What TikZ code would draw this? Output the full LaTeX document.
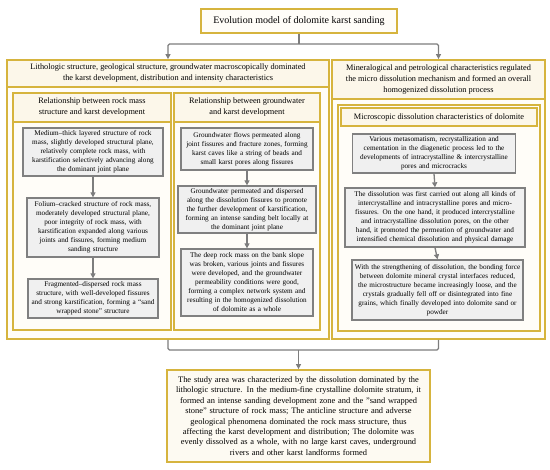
\documentclass[tikz,border=0pt]{standalone}
\usepackage{fontspec}
\setmainfont{Liberation Serif}
\usetikzlibrary{arrows.meta}
\definecolor{gold}{RGB}{214,180,62}
\definecolor{cream}{RGB}{252,247,234}
\definecolor{bodyc}{RGB}{255,253,248}
\definecolor{gfill}{RGB}{240,240,240}
\definecolor{gborder}{RGB}{128,128,128}
\definecolor{connc}{RGB}{125,125,125}
\tikzset{
  ybox/.style={draw=gold, line width=1.8pt, fill=bodyc, inner sep=0pt},
  hdr/.style={draw=gold, line width=1.8pt, fill=cream, inner sep=0pt, align=center, font=\fontsize{8.3}{11}\selectfont},
  gbox/.style={draw=gborder, line width=1.3pt, fill=gfill, inner xsep=2pt, inner ysep=0pt, align=center, font=\fontsize{7.2}{9}\selectfont},
  conn/.style={draw=connc, line width=1.3pt, rounded corners=1.5pt, -{Triangle[length=5pt,width=5pt]}},
  connline/.style={draw=connc, line width=1.3pt, rounded corners=1.5pt},
}
\begin{document}
\begin{tikzpicture}[x=1pt,y=-1pt]
\useasboundingbox (0,0) rectangle (550,470);
% title
\node[hdr, fill=bodyc, font=\fontsize{10}{12}\selectfont, minimum width=196pt, minimum height=24pt] (title) at (299,21) {Evolution model of dolomite karst sanding};
% outer boxes
\node[ybox, minimum width=322pt, minimum height=279pt] (lo) at (168,199.5) {};
\node[hdr, minimum width=322pt, minimum height=27pt] (loh) at (168,73.5) {Lithologic structure, geological structure, groundwater macroscopically dominated\\ the karst development, distribution and intensity characteristics};
\node[ybox, minimum width=213pt, minimum height=279pt] (ro) at (438.5,199.5) {};
\node[hdr, minimum width=213pt, minimum height=39pt] (roh) at (438.5,79.5) {Mineralogical and petrological characteristics regulated\\ the micro dissolution mechanism and formed an overall\\ homogenized dissolution process};
% sub boxes
\node[ybox, minimum width=158pt, minimum height=237pt] (ls) at (92,211.5) {};
\node[hdr, minimum width=158pt, minimum height=29pt] (lsh) at (92,107.5) {Relationship between rock mass\\ structure and karst development};
\node[ybox, minimum width=146pt, minimum height=237pt] (ms) at (247,211.5) {};
\node[hdr, minimum width=146pt, minimum height=29pt] (msh) at (247,107.5) {Relationship between groundwater\\ and karst development};
\node[ybox, minimum width=202pt, minimum height=226pt] (rs) at (439,218) {};
\node[hdr, minimum width=196pt, minimum height=18pt] (rsh) at (439,117) {Microscopic dissolution characteristics of dolomite};
% left column
\node[gbox, text width=136pt, minimum height=48pt] (l1) at (93,152) {Medium–thick layered structure of rock\\ mass, slightly developed structural plane,\\ relatively complete rock mass, with\\ karstification selectively advancing along\\ the dominant joint plane};
\node[gbox, text width=128pt, minimum height=59pt] (l2) at (93,227.5) {Folium–cracked structure of rock mass,\\ moderately developed structural plane,\\ poor integrity of rock mass, with\\ karstification expanded along various\\ joints and fissures, forming medium\\ sanding structure};
\node[gbox, text width=126pt, minimum height=39pt] (l3) at (93,298.5) {Fragmented–dispersed rock mass\\ structure, with well-developed fissures\\ and strong karstification, forming a ``sand\\ wrapped stone'' structure};
% middle column
\node[gbox, text width=128pt, minimum height=42pt] (m1) at (247,149) {Groundwater flows permeated along\\ joint fissures and fracture zones, forming\\ karst caves like a string of beads and\\ small karst pores along fissures};
\node[gbox, text width=134pt, minimum height=47pt] (m2) at (247,209.5) {Groundwater permeated and dispersed\\ along the dissolution fissures to promote\\ the further development of karstification,\\ forming an intense sanding belt locally at\\ the dominant joint plane};
\node[gbox, text width=128pt, minimum height=67pt] (m3) at (247,282.5) {The deep rock mass on the bank slope\\ was broken, various joints and fissures\\ were developed, and the groundwater\\ permeability conditions were good,\\ forming a complex network system and\\ resulting in the homogenized dissolution\\ of dolomite as a whole};
% right column
\node[gbox, text width=159pt, minimum height=39pt] (r1) at (434,153.5) {Various metasomatism, recrystallization and\\ cementation in the diagenetic process led to the\\ developments of intracrystalline \& intercrystalline\\ pores and microcracks};
\node[gbox, text width=176pt, minimum height=59pt] (r2) at (435,217.5) {The dissolution was first carried out along all kinds of\\ intercrystalline and intracrystalline pores and micro-\\ fissures. On the one hand, it produced intercrystalline\\ and intracrystalline dissolution pores, on the other\\ hand, it promoted the permeation of groundwater and\\ intensified chemical dissolution and physical damage};
\node[gbox, text width=167pt, minimum height=60pt] (r3) at (437.5,290) {With the strengthening of dissolution, the bonding force\\ between dolomite mineral crystal interfaces reduced,\\ the microstructure became increasingly loose, and the\\ crystals gradually fell off or disintegrated into fine\\ grains, which finally developed into dolomite sand or\\ powder};
% bottom box
\node[hdr, fill=cream!60!white, font=\fontsize{8.4}{10.4}\selectfont, text width=259pt, minimum width=263pt, minimum height=92pt] (bot) at (298.5,416) {The study area was characterized by the dissolution dominated by the\\ lithologic structure. In the medium-fine crystalline dolomite stratum, it\\ formed an intense sanding development zone and the "sand wrapped\\ stone" structure of rock mass; The anticline structure and adverse\\ geological phenomena dominated the rock mass structure, thus\\ affecting the karst development and distribution; The dolomite was\\ evenly dissolved as a whole, with no large karst caves, underground\\ rivers and other karst landforms formed};
% connectors
\coordinate (j1) at (299,44);
\draw[connline] (title.south) -- (j1);
\draw[conn] (j1) -| (lo.north);
\draw[conn] (j1) -| (ro.north);
\coordinate (j2) at (298.5,350);
\draw[connline] (lo.south) |- (j2) -| (ro.south);
\draw[conn] (j2) -- (bot.north);
\draw[conn] (l1.south) -- (l2.north);
\draw[conn] (l2.south) -- (l3.north);
\draw[conn] (m1.south) -- (m2.north);
\draw[conn] (m2.south) -- (m3.north);
\draw[conn] (r1.south) -- (r2.north);
\draw[conn] (r2.south) -- (r3.north);
\end{tikzpicture}
\end{document}
